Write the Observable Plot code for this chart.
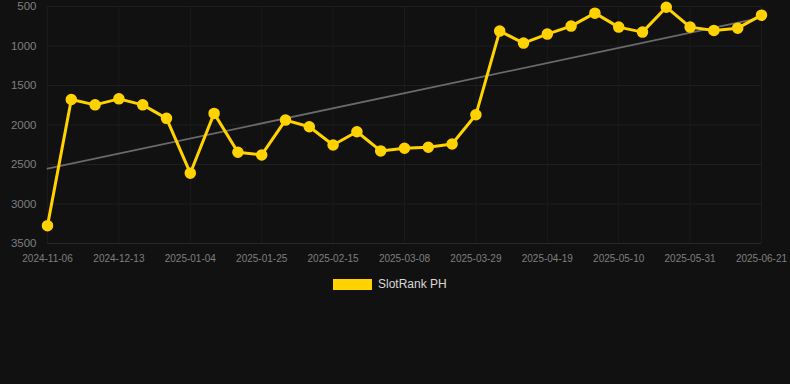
<!DOCTYPE html>
<html>
<head>
<meta charset="utf-8">
<script src="https://cdn.jsdelivr.net/npm/d3@7"></script>
<script src="https://cdn.jsdelivr.net/npm/@observablehq/plot@0.6"></script>
<style>
  html, body { margin: 0; padding: 0; background: #111111; }
  body { width: 790px; height: 384px; overflow: hidden; font-family: "Liberation Sans", Arial, sans-serif; }
  #legend { position: absolute; left: 0; top: 278px; width: 790px; height: 14px; }
  #legend .sw { position: absolute; left: 333px; top: 1px; width: 39px; height: 11px; background: #FFD200; }
  #legend .lb { position: absolute; left: 378px; top: -1px; font-size: 12px; color: #d8d8d8; line-height: 14px; }
</style>
</head>
<body>
<div id="chart"></div>
<div id="legend"><span class="sw"></span><span class="lb">SlotRank PH</span></div>
<script>
const dates = [
  "2024-11-06","2024-11-29","2024-12-06","2024-12-13","2024-12-20","2024-12-27",
  "2025-01-04","2025-01-11","2025-01-18","2025-01-25","2025-02-01","2025-02-08",
  "2025-02-15","2025-02-22","2025-03-01","2025-03-08","2025-03-15","2025-03-22",
  "2025-03-29","2025-04-05","2025-04-12","2025-04-19","2025-04-26","2025-05-03",
  "2025-05-10","2025-05-17","2025-05-24","2025-05-31","2025-06-07","2025-06-14",
  "2025-06-21"
];
const ranks = [
  3274, 1677, 1745, 1669, 1745, 1916,
  2610, 1853, 2345, 2379, 1938, 2022,
  2253, 2085, 2328, 2294, 2282, 2240,
  1871, 811, 963, 849, 748, 584,
  761, 824, 509, 761, 803, 774,
  610
];
const yTicks = [500, 1000, 1500, 2000, 2500, 3000, 3500];
const xTickIdx = [0, 3, 6, 9, 12, 15, 18, 21, 24, 27, 30];

const data = dates.map((d, i) => ({i, date: d, rank: ranks[i]}));

const gold = "#FFD200";
const chart = Plot.plot({
  width: 790,
  height: 268,
  marginLeft: 47,
  marginRight: 29,
  marginTop: 6,
  marginBottom: 25,
  style: {background: "#111111", color: "#7f7f7f", fontFamily: "Liberation Sans, Arial, sans-serif"},
  x: {type: "linear", domain: [0, dates.length - 1], axis: null},
  y: {domain: [500, 3500], reverse: true, axis: null},
  marks: [
    Plot.ruleY(yTicks.slice(0, -1), {stroke: "#1f1f1f", strokeWidth: 1}),
    Plot.ruleY([3500], {stroke: "#2a2a2a", strokeWidth: 1}),
    Plot.ruleX(xTickIdx, {stroke: "#1b1b1b", strokeWidth: 1}),
    Plot.axisY(yTicks, {tickSize: 0, tickPadding: 11, fontSize: 11.5, fill: "#7f7f7f", label: null, tickFormat: d => String(d)}),
    Plot.axisX(xTickIdx, {tickSize: 0, tickPadding: 11, fontSize: 10, fill: "#7f7f7f", label: null, tickFormat: i => dates[i]}),
    Plot.linearRegressionY(data, {x: "i", y: "rank", stroke: "#6a6a6a", strokeWidth: 1.8, ci: 0}),
    Plot.line(data, {x: "i", y: "rank", stroke: gold, strokeWidth: 3, curve: "linear"}),
    Plot.dot(data, {x: "i", y: "rank", r: 5, fill: gold, stroke: gold})
  ]
});
document.getElementById("chart").appendChild(chart);
</script>
</body>
</html>
